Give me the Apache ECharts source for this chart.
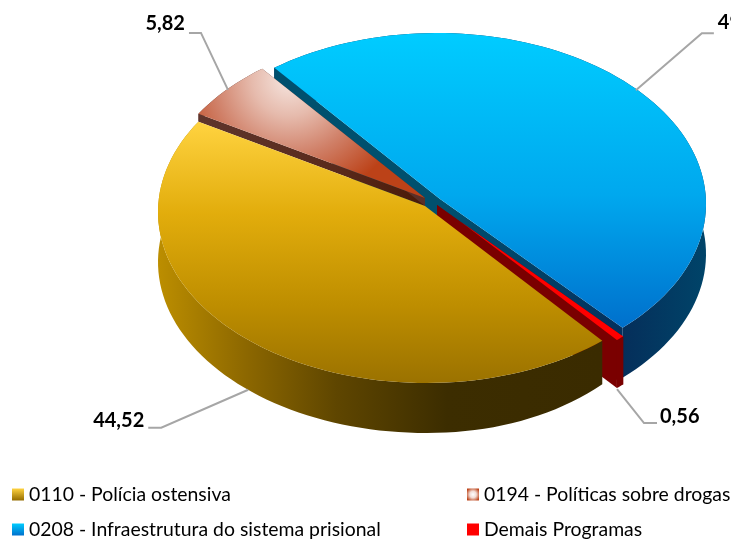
<!DOCTYPE html>
<html><head><meta charset="utf-8">
<style>html,body{margin:0;padding:0;background:#fff}#c{width:731px;height:540px}</style>
<script src="https://cdn.jsdelivr.net/npm/echarts@6/dist/echarts.min.js"></script>
</head><body><div id="c"></div>
<script>
const categories = ['0110 - Polícia ostensiva','0194 - Políticas sobre drogas','0208 - Infraestrutura do sistema prisional','Demais Programas'];
const values = [44.52, 5.82, 49.10, 0.56];
const valueLabels = ['44,52','5,82','49,10','0,56'];

const LG = echarts.graphic.LinearGradient, RG = echarts.graphic.RadialGradient;
const startAngle = 50.0;
const total = values.reduce((a,b)=>a+b,0);
const spans = []; let acc = startAngle;
values.forEach(v=>{const s=v/total*360; spans.push([acc,acc+s]); acc+=s;});

const rad = d=>d*Math.PI/180;
const geom = [
 {e:[426,212,268,171],a:[425,206],depth:50,taper:23,
  top:new LG(0,0,0,1,[{offset:0,color:'#FFD340'},{offset:.35,color:'#E2AD0C'},{offset:.7,color:'#BE8E00'},{offset:1,color:'#9B7200'}]),
  wall:new LG(0,0,1,0,[{offset:0,color:'#BC8E00'},{offset:.2,color:'#8C6700'},{offset:.4,color:'#5F4600'},{offset:.65,color:'#3C2D00'},{offset:1,color:'#3A2B00'}]),
  start:[-5,-3],leader:[[-87,38],[-100,38]],lab:[-104,31,'right']},
 {e:[426,204,268,171],a:[425,198],depth:8,
  top:new RG(.4,.08,.95,[{offset:0,color:'#F6E6E0'},{offset:.3,color:'#E6BBAD'},{offset:.62,color:'#D08068'},{offset:1,color:'#BC4218'}]),
  wall:'#5A3028',cutStart:new LG(0,0,1,0,[{offset:0,color:'#5E352C'},{offset:.6,color:'#5A2A1C'},{offset:1,color:'#4A1A08'}]),cutEnd:'#5A3028',
  start:[5,-2.5],leader:[[-27,-57],[-39,-57]],lab:[-43,-66,'right']},
 {e:[437,204,269,171],a:[440,199],depth:50,
  top:new LG(0,0,0,1,[{offset:0,color:'#00CCFF'},{offset:.55,color:'#00A8EE'},{offset:1,color:'#0070CC'}]),
  wall:new LG(0,0,1,0,[{offset:0,color:'#052E5A'},{offset:.8,color:'#052E5A'},{offset:1,color:'#004469'}]),
  cutStart:'#00506E',cutEnd:new LG(0,0,1,0,[{offset:0,color:'#00506E'},{offset:.45,color:'#024368'},{offset:1,color:'#042F5C'}]),
  start:[-6,-3],leader:[[66,-57],[78,-57]],lab:[82,-68,'left']},
 {e:[437,213,269,171],a:[461,222],back:[437,205],depth:48,
  top:'#FF0000',wall:'#7A0000',cutStart:'#7A0000',cutEnd:'#7A0000',
  start:[3.5,-1],leader:[[27,34],[40,34]],lab:[43,28,'left']}
];

function rayPoint(g,t){
  const [cx,cy,rx,ry]=g.e, dx=rx*Math.cos(rad(t)), dy=ry*Math.sin(rad(t));
  const ox=(g.a[0]-cx)/rx, oy=(g.a[1]-cy)/ry, ux=dx/rx, uy=dy/ry;
  const A=ux*ux+uy*uy, B=2*(ox*ux+oy*uy), C=ox*ox+oy*oy-1;
  const k=(-B+Math.sqrt(B*B-4*A*C))/(2*A);
  return [g.a[0]+k*dx,g.a[1]+k*dy];
}
function makeRender(i){
  return function(){
    const g=geom[i],[s,e]=spans[i],arc=[];
    const n=Math.max(4,Math.ceil((e-s)/2));
    for(let j=0;j<=n;j++)arc.push(rayPoint(g,s+(e-s)*j/n));
    const d=g.depth;
    const down=p=>{
      let dd=d;
      if(g.taper){const u=Math.max(0,(p[0]-g.e[0])/g.e[2]);dd-=g.taper*u*u*u;}
      return [p[0],p[1]+dd];
    };
    const kids=[];
    const poly=(pts,fill)=>kids.push({type:'polygon',shape:{points:pts},style:{fill:fill,stroke:null}});
    const back=g.back||g.a;
    poly(arc.concat(arc.map(down).reverse()),g.wall);
    if(g.cutStart){
      poly([back,arc[0],down(arc[0]),down(back)],g.cutStart);
      poly([back,arc[n],down(arc[n]),down(back)],g.cutEnd);
    }
    poly([g.a].concat(arc),g.top);
    // leader line and value label, anchored at the slice's mid angle
    const mid=(s+e)/2,[cx,cy,rx,ry]=g.e;
    const onFront=Math.sin(rad(mid))>0;
    const ax=cx+rx*Math.cos(rad(mid))+g.start[0], ay=cy+ry*Math.sin(rad(mid))+(onFront?d:0)+g.start[1];
    const pts=[[ax,ay]].concat(g.leader.map(o=>[ax+o[0],ay+o[1]]));
    kids.push({type:'polyline',shape:{points:pts},style:{stroke:'#A6A6A6',lineWidth:2,fill:null}});
    kids.push({type:'text',style:{x:ax+g.lab[0],y:ay+g.lab[1],text:valueLabels[i],align:g.lab[2],verticalAlign:'middle',
      font:'bold 20px Lato, "Open Sans", sans-serif',fill:'#000'}});
    return {type:'group',children:kids};
  };
}
const legendColors=[
 new LG(0,0,0,1,[{offset:0,color:'#FFD340'},{offset:1,color:'#946C00'}]),
 new RG(.5,.5,.6,[{offset:0,color:'#FFFFFF'},{offset:.45,color:'#F2DCD5'},{offset:1,color:'#BC4218'}]),
 new LG(0,0,0,1,[{offset:0,color:'#00CCFF'},{offset:1,color:'#0070CC'}]),
 '#FF0000'];
const order=[2,1,3,0];
const legendText={color:'#000',fontFamily:'Lato, "Open Sans", sans-serif',fontSize:19.4};
const legendAt=[[12,485],[467,485],[12,520],[467,520]];
const chart=echarts.init(document.getElementById('c'),null,{renderer:'canvas'});
chart.setOption({
  animation:false,backgroundColor:'#fff',
  legend:categories.map((c,i)=>({data:[c],left:legendAt[i][0],top:legendAt[i][1],itemWidth:12,itemHeight:12,icon:'rect',selectedMode:false,textStyle:legendText,padding:0})),
  series:order.map(i=>({type:'custom',name:categories[i],coordinateSystem:'none',data:[values[i]],
    itemStyle:{color:legendColors[i]},renderItem:makeRender(i),silent:true,clip:false}))
});
</script></body></html>
